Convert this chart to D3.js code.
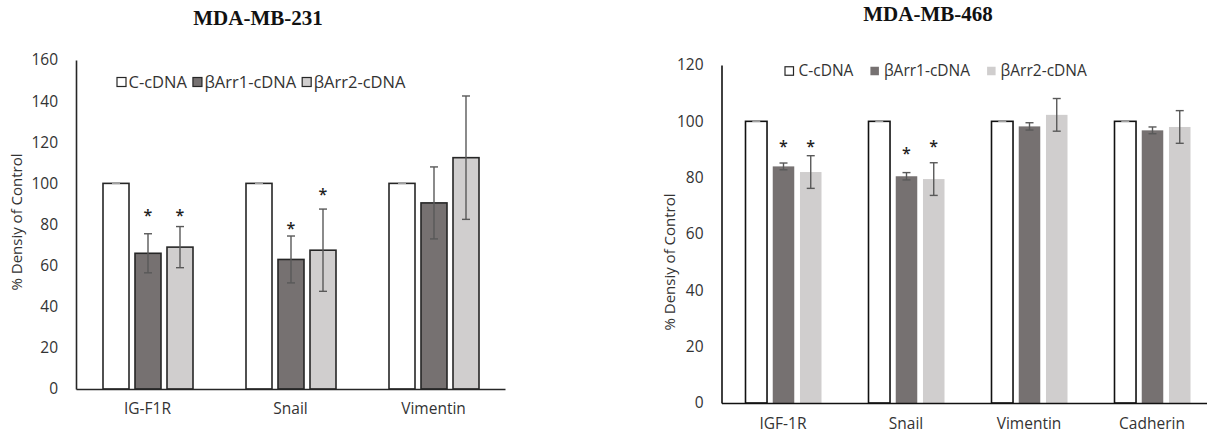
<!DOCTYPE html>
<html><head><meta charset="utf-8">
<script src="https://cdn.jsdelivr.net/npm/d3@7"></script>
<style>html,body{margin:0;padding:0;background:#fff;}svg{display:block;}</style>
</head><body>
<svg id="c" width="1207" height="438"></svg>
<script>
// ---- data ----
const series = ["C-cDNA", "βArr1-cDNA", "βArr2-cDNA"];

const cats231 = ["IG-F1R", "Snail", "Vimentin"];
const ctrl231 = [100, 100, 100];
const arr1_231 = [66, 63, 90.5];
const arr2_231 = [69, 67.5, 112.5];
const errCtrl231 = [0, 0, 0];
const errArr1_231 = [9.5, 11.4, 17.5];
const errArr2_231 = [10, 20, 30];
const starArr1_231 = [85.6, 79.3, null];
const starArr2_231 = [85.6, 95.8, null];
const ticks231 = [0, 20, 40, 60, 80, 100, 120, 140, 160];

const cats468 = ["IGF-1R", "Snail", "Vimentin", "Cadherin"];
const ctrl468 = [100, 100, 100, 100];
const arr1_468 = [84, 80.5, 98.2, 96.8];
const arr2_468 = [82, 79.5, 102.3, 98];
const errCtrl468 = [0, 0, 0, 0];
const errArr1_468 = [1.2, 1.3, 1.3, 1.2];
const errArr2_468 = [5.8, 5.8, 5.8, 5.8];
const starArr1_468 = [92, 89.4, null, null];
const starArr2_468 = [92, 92, null, null];
const ticks468 = [0, 20, 40, 60, 80, 100, 120];

const yTitle = "% Densiy of Control";
const fills = ["#ffffff", "#767171", "#d0cece"];

const svg = d3.select("#c");
const FONT = "'Open Sans', 'Noto Sans', sans-serif";

function drawChart(cfg) {
  const g = svg.append("g");
  const x0 = d3.scaleBand().domain(cfg.cats).range(cfg.xRange).paddingInner(0).paddingOuter(0);
  const x1 = d3.scaleBand().domain(series).range(cfg.groupRange).paddingInner(cfg.barPad).paddingOuter(0);
  const y = d3.scaleLinear().domain(cfg.yDomain).range(cfg.yRange);

  const vals = [cfg.ctrl, cfg.a1, cfg.a2];
  const errs = [cfg.eC, cfg.e1, cfg.e2];
  const stars = [null, cfg.s1, cfg.s2];
  const rows = [];
  cfg.cats.forEach((c, i) => series.forEach((s, j) => rows.push({
    cat: c, ser: s, j, v: vals[j][i], e: errs[j][i], star: stars[j] ? stars[j][i] : null
  })));

  // title
  g.append("text").attr("x", cfg.titleX).attr("y", cfg.titleY)
    .attr("text-anchor", "middle").attr("font-family", "'Liberation Serif', 'Times New Roman', serif")
    .attr("font-weight", "bold").attr("font-size", 21).attr("fill", "#111").text(cfg.title);

  // y tick labels (no tick marks)
  g.selectAll(".yt").data(cfg.ticks).join("text")
    .attr("x", cfg.xRange[0] - 18).attr("y", d => y(d)).attr("dy", "0.35em")
    .attr("text-anchor", "end").attr("font-family", FONT).attr("font-size", 15.5)
    .attr("fill", "#333").text(d => d);

  // y title
  g.append("text").attr("transform", `translate(${cfg.yTitleX},${cfg.yTitleY}) rotate(-90)`)
    .attr("text-anchor", "middle").attr("dy", "0.35em").attr("font-family", FONT)
    .attr("font-size", 15).attr("fill", "#333").text(yTitle);

  // bars
  g.selectAll(".bar").data(rows).join("rect")
    .attr("x", d => x0(d.cat) + x1(d.ser)).attr("width", x1.bandwidth())
    .attr("y", d => y(d.v)).attr("height", d => y(0) - y(d.v))
    .attr("fill", d => fills[d.j])
    .attr("stroke", d => (cfg.outlineAll || d.j === 0) ? cfg.outline : "none")
    .attr("stroke-width", 1.6);

  // error bars
  const eb = g.selectAll(".eb").data(rows).join("g")
    .attr("stroke", d => d.e === 0 ? "#a0a0a0" : "#595959").attr("stroke-width", 1.4);
  const cx = d => x0(d.cat) + x1(d.ser) + x1.bandwidth() / 2;
  eb.filter(d => d.e > 0).append("line")
    .attr("x1", cx).attr("x2", cx).attr("y1", d => y(d.v + d.e)).attr("y2", d => y(d.v - d.e));
  eb.append("line").attr("x1", d => cx(d) - 4).attr("x2", d => cx(d) + 4)
    .attr("y1", d => y(d.v + d.e)).attr("y2", d => y(d.v + d.e));
  eb.filter(d => d.e > 0).append("line").attr("x1", d => cx(d) - 4).attr("x2", d => cx(d) + 4)
    .attr("y1", d => y(d.v - d.e)).attr("y2", d => y(d.v - d.e));

  // asterisks
  g.selectAll(".st").data(rows.filter(d => d.star != null)).join("text")
    .attr("x", cx).attr("y", d => y(d.star) + 8).attr("text-anchor", "middle")
    .attr("font-family", FONT).attr("font-size", 16).attr("font-weight", 600).attr("fill", "#222").text("*");

  // axes lines
  const yAxis = d3.axisLeft(y).tickValues([]).tickSize(0);
  g.append("g").attr("transform", `translate(${cfg.xRange[0]},0)`).call(yAxis)
    .call(a => a.select(".domain").attr("stroke", cfg.axisColor).attr("stroke-width", 1.6));
  const xAxis = d3.axisBottom(x0).tickSize(0).tickPadding(cfg.catPad);
  g.append("g").attr("transform", `translate(0,${y(0)})`).call(xAxis)
    .call(a => a.select(".domain").attr("stroke", cfg.axisColor).attr("stroke-width", 1.6))
    .call(a => a.selectAll("text").attr("font-family", FONT).attr("font-size", 15.5).attr("fill", "#333"));

  // legend
  let lx = cfg.legendX;
  series.forEach((s, j) => {
    g.append("rect").attr("x", lx).attr("y", cfg.legendY - cfg.sw / 2).attr("width", cfg.sw).attr("height", cfg.sw)
      .attr("fill", fills[j]).attr("stroke", (j === 0 || cfg.outlineAll) ? "#262626" : "none").attr("stroke-width", 1.2);
    const t = g.append("text").attr("x", lx + cfg.sw + cfg.swGap).attr("y", cfg.legendY).attr("dy", "0.35em")
      .attr("font-family", FONT).attr("font-size", cfg.legendFont).attr("fill", "#333").text(s);
    lx += cfg.sw + cfg.swGap + t.node().getComputedTextLength() + cfg.itemGap;
  });
}

drawChart({
  title: "MDA-MB-231", titleX: 258, titleY: 25,
  cats: cats231, ctrl: ctrl231, a1: arr1_231, a2: arr2_231,
  eC: errCtrl231, e1: errArr1_231, e2: errArr2_231, s1: starArr1_231, s2: starArr2_231,
  ticks: ticks231, xRange: [76, 505], groupRange: [27, 117], barPad: 0.1875,
  yDomain: [0, 160], yRange: [389, 60], yTitleX: 17, yTitleY: 222,
  outlineAll: true, outline: "#262626", axisColor: "#262626", catPad: 14,
  legendX: 117, legendY: 82, sw: 9, swGap: 2.5, itemGap: 6, legendFont: 16.5
});

drawChart({
  title: "MDA-MB-468", titleX: 928, titleY: 21,
  cats: cats468, ctrl: ctrl468, a1: arr1_468, a2: arr2_468,
  eC: errCtrl468, e1: errArr1_468, e2: errArr2_468, s1: starArr1_468, s2: starArr2_468,
  ticks: ticks468, xRange: [721.5, 1213.5], groupRange: [24, 100], barPad: 0.21,
  yDomain: [0, 120], yRange: [403, 65], yTitleX: 670, yTitleY: 262,
  outlineAll: false, outline: "#111", axisColor: "#111", catPad: 15,
  legendX: 785, legendY: 71, sw: 8.5, swGap: 5, itemGap: 17, legendFont: 15.5
});
</script>
</body></html>
